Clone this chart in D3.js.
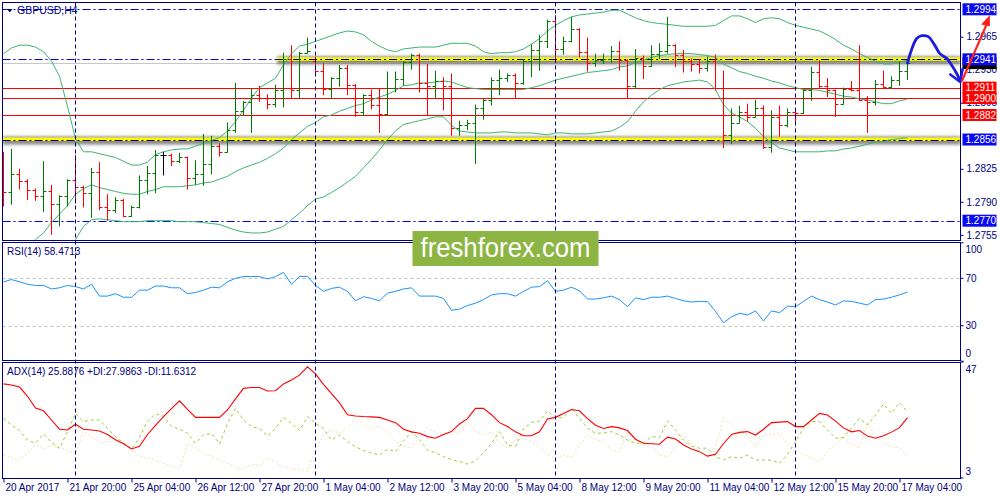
<!DOCTYPE html>
<html><head><meta charset="utf-8">
<script src="https://cdn.jsdelivr.net/npm/d3@7"></script>
<style>body{margin:0;background:#fff}svg{display:block}text{font-family:"Liberation Sans",Arial,sans-serif}</style>
</head><body>
<svg id="c" width="1000" height="500"></svg>
<script>
// ---------------- DATA ----------------
const symbolTitle = "GBPUSD,H4";
const timeLabels = ["20 Apr 2017","21 Apr 20:00","25 Apr 04:00","26 Apr 12:00","27 Apr 20:00","1 May 04:00","2 May 12:00","3 May 20:00","5 May 04:00","8 May 12:00","9 May 20:00","11 May 04:00","12 May 12:00","15 May 20:00","17 May 04:00"];
const labelEvery = 8;
const separatorBars = [9, 39, 69, 99];

const open = [1.2813,1.2800,1.2820,1.2812,1.2802,1.2796,1.2801,1.2788,1.2796,1.2813,
1.2806,1.2799,1.2822,1.2784,1.2781,1.2792,1.2775,1.2784,1.2813,1.2821,
1.2840,1.2840,1.2833,1.2837,1.2815,1.2820,1.2830,1.2849,1.2843,1.2866,
1.2886,1.2896,1.2903,1.2900,1.2894,1.2909,1.2941,1.2909,1.2948,1.2939,
1.2929,1.2910,1.2921,1.2932,1.2914,1.2885,1.2903,1.2893,1.2883,1.2911,
1.2920,1.2938,1.2946,1.2916,1.2913,1.2918,1.2913,1.2868,1.2871,1.2874,
1.2889,1.2898,1.2919,1.2921,1.2924,1.2916,1.2939,1.2951,1.2960,1.2982,
1.2952,1.2960,1.2973,1.2949,1.2937,1.2940,1.2941,1.2950,1.2940,1.2913,
1.2942,1.2934,1.2947,1.2950,1.2956,1.2946,1.2939,1.2936,1.2932,1.2939,
1.2911,1.2861,1.2874,1.2885,1.2880,1.2889,1.2848,1.2880,1.2871,1.2885,
1.2884,1.2908,1.2928,1.2913,1.2908,1.2894,1.2910,1.2909,1.2898,1.2896,
1.2915,1.2912,1.2919,1.2929];
const high = [1.2843,1.2846,1.2825,1.2814,1.2804,1.2833,1.2808,1.2797,1.2814,1.2840,
1.2807,1.2826,1.2832,1.2798,1.2795,1.2793,1.2786,1.2818,1.2828,1.2845,
1.2843,1.2841,1.2842,1.2838,1.2834,1.2862,1.2860,1.2852,1.2874,1.2916,
1.2897,1.2910,1.2913,1.2904,1.2914,1.2948,1.2956,1.2949,1.2964,1.2944,
1.2937,1.2922,1.2935,1.2935,1.2915,1.2904,1.2909,1.2910,1.2928,1.2928,
1.2939,1.2947,1.2947,1.2936,1.2929,1.2922,1.2926,1.2876,1.2877,1.2893,
1.2900,1.2922,1.2930,1.2926,1.2926,1.2941,1.2957,1.2967,1.2983,1.2988,
1.2965,1.2986,1.2974,1.2964,1.2947,1.2947,1.2955,1.2960,1.2941,1.2952,
1.2945,1.2956,1.2958,1.2986,1.2957,1.2951,1.2942,1.2941,1.2944,1.2946,
1.2929,1.2889,1.2892,1.2894,1.2898,1.2892,1.2887,1.2892,1.2889,1.2887,
1.2909,1.2933,1.2940,1.2921,1.2909,1.2911,1.2918,1.2956,1.2902,1.2919,
1.2929,1.2923,1.2939,1.2940];
const low = [1.2785,1.2787,1.2803,1.2792,1.2791,1.2779,1.2755,1.2764,1.2785,1.2788,
1.2784,1.2773,1.2781,1.2770,1.2778,1.2774,1.2774,1.2783,1.2798,1.2799,
1.2818,1.2828,1.2831,1.2803,1.2808,1.2807,1.2819,1.2838,1.2842,1.2863,
1.2881,1.2863,1.2896,1.2888,1.2890,1.2890,1.2900,1.2900,1.2947,1.2923,
1.2903,1.2899,1.2912,1.2903,1.2880,1.2881,1.2888,1.2863,1.2882,1.2906,
1.2913,1.2930,1.2906,1.2882,1.2900,1.2887,1.2860,1.2860,1.2866,1.2830,
1.2877,1.2892,1.2903,1.2917,1.2899,1.2914,1.2922,1.2929,1.2953,1.2937,
1.2946,1.2959,1.2943,1.2928,1.2933,1.2936,1.2937,1.2929,1.2900,1.2910,
1.2920,1.2933,1.2941,1.2947,1.2933,1.2927,1.2928,1.2926,1.2928,1.2908,
1.2847,1.2851,1.2873,1.2875,1.2879,1.2846,1.2842,1.2859,1.2869,1.2873,
1.2883,1.2897,1.2910,1.2901,1.2880,1.2893,1.2907,1.2897,1.2863,1.2892,
1.2911,1.2910,1.2913,1.2919];
const close = [1.2800,1.2820,1.2812,1.2802,1.2796,1.2801,1.2788,1.2796,1.2813,1.2806,
1.2799,1.2822,1.2784,1.2781,1.2792,1.2775,1.2784,1.2813,1.2821,1.2840,
1.2840,1.2833,1.2837,1.2815,1.2820,1.2830,1.2849,1.2843,1.2866,1.2886,
1.2896,1.2903,1.2900,1.2894,1.2909,1.2941,1.2909,1.2948,1.2950,1.2929,
1.2910,1.2921,1.2932,1.2914,1.2885,1.2903,1.2893,1.2883,1.2911,1.2920,
1.2938,1.2946,1.2916,1.2913,1.2918,1.2913,1.2868,1.2871,1.2874,1.2889,
1.2898,1.2919,1.2921,1.2924,1.2916,1.2939,1.2951,1.2960,1.2982,1.2952,
1.2960,1.2973,1.2949,1.2937,1.2940,1.2941,1.2950,1.2940,1.2913,1.2942,
1.2934,1.2947,1.2950,1.2956,1.2946,1.2939,1.2936,1.2932,1.2939,1.2911,
1.2861,1.2874,1.2885,1.2880,1.2889,1.2848,1.2880,1.2871,1.2885,1.2884,
1.2908,1.2928,1.2913,1.2908,1.2894,1.2910,1.2909,1.2898,1.2896,1.2915,
1.2912,1.2919,1.2929,1.2937];

const bbUpper = [1.2947,1.2953,1.2956,1.2956,1.2954,1.2949,1.2939,1.2923,1.2891,1.2857,
1.2843,1.2843,1.2841,1.2839,1.2837,1.2833,1.2829,1.2829,1.2832,1.2840,
1.2843,1.2845,1.2846,1.2846,1.2849,1.2852,1.2855,1.2858,1.2865,1.2875,
1.2887,1.2900,1.2911,1.2916,1.2921,1.2935,1.2947,1.2955,1.2957,1.2960,
1.2963,1.2966,1.2969,1.2971,1.2970,1.2967,1.2960,1.2955,1.2951,1.2949,
1.2952,1.2953,1.2954,1.2954,1.2954,1.2956,1.2958,1.2958,1.2958,1.2955,
1.2949,1.2947,1.2948,1.2948,1.2949,1.2952,1.2957,1.2963,1.2971,1.2977,
1.2982,1.2986,1.2988,1.2989,1.2990,1.2991,1.2993,1.2993,1.2989,1.2985,
1.2982,1.2980,1.2979,1.2978,1.2977,1.2976,1.2976,1.2976,1.2976,1.2977,
1.2982,1.2987,1.2987,1.2984,1.2980,1.2984,1.2985,1.2984,1.2980,1.2977,
1.2975,1.2973,1.2971,1.2967,1.2962,1.2956,1.2952,1.2947,1.2943,1.2939,
1.2936,1.2936,1.2938,1.2940];
const bbMiddle = [1.2714,1.2724,1.2733,1.2742,1.2750,1.2757,1.2768,1.2777,1.2786,1.2798,
1.2804,1.2808,1.2805,1.2803,1.2801,1.2799,1.2798,1.2798,1.2801,1.2803,
1.2806,1.2806,1.2806,1.2807,1.2808,1.2810,1.2811,1.2814,1.2817,1.2822,
1.2826,1.2829,1.2832,1.2836,1.2841,1.2847,1.2856,1.2863,1.2870,1.2874,
1.2880,1.2882,1.2886,1.2889,1.2892,1.2894,1.2898,1.2901,1.2904,1.2908,
1.2913,1.2914,1.2916,1.2916,1.2917,1.2918,1.2917,1.2914,1.2911,1.2910,
1.2909,1.2909,1.2909,1.2909,1.2909,1.2909,1.2911,1.2913,1.2916,1.2919,
1.2921,1.2923,1.2925,1.2927,1.2928,1.2929,1.2930,1.2933,1.2934,1.2938,
1.2940,1.2943,1.2945,1.2946,1.2947,1.2947,1.2947,1.2946,1.2945,1.2943,
1.2936,1.2932,1.2928,1.2926,1.2923,1.2921,1.2918,1.2916,1.2913,1.2911,
1.2909,1.2909,1.2908,1.2906,1.2904,1.2902,1.2901,1.2899,1.2898,1.2896,
1.2894,1.2894,1.2897,1.2899];
const bbLower = [null,null,null,null,null,null,null,null,1.2725,1.2750,
1.2764,1.2771,1.2772,1.2771,1.2770,1.2769,1.2769,1.2769,1.2770,1.2770,
1.2770,1.2770,1.2769,1.2769,1.2769,1.2768,1.2767,1.2766,1.2763,1.2760,
1.2758,1.2757,1.2757,1.2758,1.2761,1.2764,1.2771,1.2778,1.2786,1.2793,
1.2795,1.2800,1.2805,1.2811,1.2817,1.2826,1.2835,1.2845,1.2856,1.2865,
1.2872,1.2874,1.2876,1.2878,1.2880,1.2880,1.2871,1.2865,1.2864,1.2863,
1.2863,1.2863,1.2864,1.2864,1.2863,1.2863,1.2863,1.2862,1.2861,1.2863,
1.2863,1.2862,1.2862,1.2862,1.2863,1.2864,1.2865,1.2869,1.2875,1.2886,
1.2896,1.2903,1.2909,1.2913,1.2915,1.2917,1.2918,1.2919,1.2917,1.2909,
1.2893,1.2884,1.2880,1.2875,1.2868,1.2859,1.2853,1.2847,1.2845,1.2843,
1.2843,1.2843,1.2843,1.2844,1.2844,1.2846,1.2847,1.2849,1.2851,1.2853,
1.2854,1.2856,1.2857,1.2858];

const rsi = [67,69,67,65,64,64,61,62,64,63,
61,65,55,55,57,54,54,60,60,63.5,
63.5,62,62,57,58,60,62.5,62,67,70,
71.5,71.5,71.5,69.5,71.5,75,65,71.5,71.5,64,
59,61.5,62.5,59,51,54.5,53,51,57.5,59,
61,62,55,55,55,53,43,44,47,49,
52,56,57,57,55,59,62.5,63,68,59,
60,62.5,59.5,52.5,52.5,53.5,55,52,46,53.5,
52,54,54,55,53,51,50,50.5,50.5,42,
32.5,37.5,40.5,39,42.5,34,42.5,41,46.5,46,
50.5,55,52,50,47.5,51,50.5,49,47.5,52,
52.5,54,56,58.47];
const adx = [38.7,38.3,37.5,34,29.5,28.5,25,21.5,21.2,23.4,
21.5,21.2,20.8,19.5,17.5,16,14,15,19.5,23,
26.3,29.3,32.3,29,26,26,26,26,28.8,33,
37,37.3,37.3,36,36.1,38.7,40.2,42,45.2,42.5,
38.5,35,31.5,27,26.5,26.3,26.2,26,25,24,
21.5,20.5,20,18.7,18.1,19.5,20.6,23.5,25.5,29.4,
29.4,27,24,22.5,20.5,19,19,20.5,25.4,26,
27.5,29,28.5,25.5,23,21.8,22.5,22,21,17.7,
16.2,16,15.8,18.5,17.8,15.5,14,13,11.3,12,
16,19.5,20.3,20.6,19.3,21.5,24,24.2,24.4,22.5,
22.5,25,27.5,26.9,24.6,22,20.5,21,18.9,18.1,
19,20.4,22.1,25.89];
const plusDI = [25.6,23.1,21,17.4,16.2,19.7,16.5,14.3,20.6,27.5,
24.4,25,25,21.8,18.7,16.2,13.9,18.4,24.4,27.3,
26.5,22.5,21.5,20,16.2,19.3,20,15.9,23.7,29.4,
25,22.5,21.8,18.9,21.8,26,23.7,21,26.3,23.7,
21.8,17.4,19.3,16.8,14.9,13.4,12.5,11.7,13.9,13,
17,20.6,17.5,13.6,12.5,11.1,10,9.2,8.3,9.5,
12.5,16.2,20.6,15.5,14.9,21.8,24.1,24.6,28.5,25.6,
26,29.4,25.6,21.8,20,20,20.6,19.3,17.4,16.2,
16.2,18.7,18.4,24.6,21.2,17.4,15.1,14.3,14.3,11.1,
9.8,11.1,10.5,11.7,9.8,9.8,9.8,8.6,12,16.8,
22,24.4,24.4,21.2,18.1,18.4,22,25.6,23.1,26.9,
31,27.5,31.6,27.99];
const minusDI = [11.7,10.9,9.8,12.5,15.5,14,15.5,14.6,13.4,12.1,
20.6,18.7,16.2,16.8,17,16.5,14,11.1,10.5,9.8,
8.5,7.6,6.7,16.2,14.3,12.5,11.3,9.5,8.6,7,
6.3,8.3,7.6,10.5,9.2,7,6.7,6.3,5.4,13.6,
19.3,21.2,20,21.8,25.6,23.7,21.2,23.1,20.6,16.8,
15,14.3,18.7,21.8,20.5,19.3,21.8,20,24.4,20.6,
19.3,20.6,16.2,14.3,17.4,18,16.8,14.3,11.7,10.5,
11.7,11,15.5,19.3,17.5,16.8,13.6,13,20.6,17.4,
15.5,14.9,11.7,11.1,14.3,20,15.5,13,11.1,14.6,
25.6,23.1,20.6,19.3,14.9,19.3,19.5,20,16.2,13.6,
11.7,10.5,9.2,13,16,18.7,15.9,14.3,24.4,18.7,
16.2,15,14.3,11.63];

const priceTicks = [1.2755,1.2790,1.2825,1.2895,1.2930,1.2965];
const rsiTicks = [0,30,70,100];
const rsiLevels = [30,70];
const adxTicks = [3,47];
const blueLevels = [1.2994,1.2941,1.2856,1.2770];
const redLevels = [1.2911,1.2900,1.2882];
const yellowZones = [{price:1.2941, fromBar:34.2},{price:1.2856, fromBar:-1}];
const rsiTitle = "RSI(14) 58.4713";
const adxTitle = "ADX(14) 25.8876 +DI:27.9863 -DI:11.6312";
const watermark = "freshforex.com";
// hand-drawn annotations (bar index, price)
const blueCurve = [[113.0,1.2937],[113.5,1.2951],[114.15,1.2963],[114.8,1.2966],[115.6,1.2965],[116.4,1.2956],[117.05,1.2947],[117.9,1.2942],[118.5,1.2935],[119.15,1.2926],[119.6,1.2918]];
const blueHead = [[118.35,1.2925],[119.6,1.2917],[119.9,1.2931]];
const redArrow = [[119.8,1.2918],[123.1,1.2982]];
const redHead = [[123.3,1.2988],[122.2,1.2978],[123.3,1.2976]];

// ---------------- LAYOUT ----------------
const NAVY = "#000080";
const L = 2.5, R = 960.5;
const P = {price:[2.5,240.5], rsi:[242.5,360.5], adx:[362.5,478.5]};
const FS = 9.5;

const svg = d3.select("#c");
const n = close.length;
const x = d3.scaleLinear().domain([0, n-1]).range([3.5, 3.5 + 8*(n-1)]);
const yP = d3.scaleLinear().domain([1.2770, 1.2994]).range([220.7, 9.3]);
const yR = d3.scaleLinear().domain([0, 100]).range([361.2, 242.8]);
const yA = d3.scaleLinear().domain([3, 47]).range([478, 362]);

const defs = svg.append("defs");
defs.append("filter").attr("id","blur").attr("x","-5%").attr("y","-300%").attr("width","110%").attr("height","700%")
  .append("feGaussianBlur").attr("stdDeviation", 1.8);
Object.entries(P).forEach(([k,[t,b]]) => {
  defs.append("clipPath").attr("id","clip-"+k).append("rect")
    .attr("x", L).attr("y", t).attr("width", R-L).attr("height", b-t);
});

// ---------- PRICE PANEL ----------
const gp = svg.append("g").attr("clip-path","url(#clip-price)");

// bid line
const lastClose = close[n-1];
gp.append("line").attr("x1",L).attr("x2",R).attr("y1",Math.round(yP(lastClose))+0.5).attr("y2",Math.round(yP(lastClose))+0.5)
  .attr("stroke","#c8c8c8").attr("stroke-width",1);

// blue dash-dot levels
blueLevels.forEach(v => {
  const yy = Math.round(yP(v))+0.5;
  gp.append("line").attr("x1",L).attr("x2",R).attr("y1",yy).attr("y2",yy)
    .attr("stroke","#0000e6").attr("stroke-width",1).attr("stroke-dasharray","8,3,2,3");
});
// yellow zones with shadow
yellowZones.forEach(z => {
  const yy = yP(z.price);
  const x0 = Math.max(L, x(z.fromBar));
  gp.append("rect").attr("x",x0).attr("y",yy-3).attr("width",R-x0).attr("height",8)
    .attr("fill","#6a6a6a").attr("opacity",0.8).attr("filter","url(#blur)");
  gp.append("rect").attr("x",x0).attr("y",yy-2).attr("width",R-x0).attr("height",3.5).attr("fill","#ffff00");
  gp.append("line").attr("x1",x0).attr("x2",R).attr("y1",Math.round(yy)+0.5).attr("y2",Math.round(yy)+0.5)
    .attr("stroke","#000040").attr("stroke-width",1).attr("stroke-dasharray","8,3,2,3");
});
// red levels
redLevels.forEach(v => {
  const yy = Math.round(yP(v))+0.5;
  gp.append("line").attr("x1",L).attr("x2",R).attr("y1",yy).attr("y2",yy)
    .attr("stroke","#ff0000").attr("stroke-width",1.2);
});

// Bollinger bands
const bbLine = d3.line().defined(d => d[1] != null).x(d => x(d[0])).y(d => yP(d[1]));
[bbUpper, bbMiddle, bbLower].forEach(arr => {
  gp.append("path").attr("d", bbLine(arr.map((v,i)=>[i,v])))
    .attr("fill","none").attr("stroke","#3cb371").attr("stroke-width",1);
});

// OHLC bars
const bars = gp.append("g").selectAll("g").data(d3.range(n)).join("g")
  .attr("stroke", i => close[i] > open[i] ? "#007a00" : (close[i] < open[i] ? "#ff0000" : "#000000"))
  .attr("stroke-width", 1);
bars.append("line").attr("x1", i=>x(i)).attr("x2", i=>x(i)).attr("y1", i=>yP(high[i])).attr("y2", i=>yP(low[i]));
bars.append("line").attr("x1", i=>x(i)-3).attr("x2", i=>x(i)).attr("y1", i=>Math.round(yP(open[i]))+0.5).attr("y2", i=>Math.round(yP(open[i]))+0.5);
bars.append("line").attr("x1", i=>x(i)).attr("x2", i=>x(i)+3).attr("y1", i=>Math.round(yP(close[i]))+0.5).attr("y2", i=>Math.round(yP(close[i]))+0.5);

// ---------- RSI PANEL ----------
const gr = svg.append("g").attr("clip-path","url(#clip-rsi)");
rsiLevels.forEach(v => {
  const yy = Math.round(yR(v))+0.5;
  gr.append("line").attr("x1",L).attr("x2",R).attr("y1",yy).attr("y2",yy)
    .attr("stroke","#c0c0c0").attr("stroke-dasharray","3,3");
});
gr.append("path").attr("d", d3.line().x((d,i)=>x(i)).y(d=>yR(d))(rsi))
  .attr("fill","none").attr("stroke","#1e90ff").attr("stroke-width",1);

// ---------- ADX PANEL ----------
const ga = svg.append("g").attr("clip-path","url(#clip-adx)");
const aLine = d3.line().x((d,i)=>x(i)).y(d=>yA(d));
ga.append("path").attr("d", aLine(minusDI)).attr("fill","none").attr("stroke","#f5deb3").attr("stroke-width",1).attr("stroke-dasharray","2,2");
ga.append("path").attr("d", aLine(plusDI)).attr("fill","none").attr("stroke","#9acd32").attr("stroke-width",1).attr("stroke-dasharray","3,3");
ga.append("path").attr("d", aLine(adx)).attr("fill","none").attr("stroke","#ff0000").attr("stroke-width",1.1);

// ---------- vertical separators ----------
separatorBars.forEach(b => {
  svg.append("line").attr("x1",x(b)).attr("x2",x(b)).attr("y1",P.price[0]).attr("y2",P.adx[1])
    .attr("stroke",NAVY).attr("stroke-width",1).attr("stroke-dasharray","4,3");
});

// ---------- frames ----------
Object.values(P).forEach(([t,b]) => {
  svg.append("rect").attr("x",L).attr("y",t).attr("width",R-L).attr("height",b-t)
    .attr("fill","none").attr("stroke",NAVY).attr("stroke-width",1);
});

// ---------- titles ----------
svg.append("path").attr("d", d3.line()([[7,9],[12.5,9],[9.75,12.5]])+"Z").attr("fill",NAVY);
svg.append("text").attr("x",17).attr("y",14).attr("font-size",FS+1).attr("fill",NAVY).text(symbolTitle);
svg.append("text").attr("x",7).attr("y",255).attr("font-size",FS+0.5).attr("fill",NAVY).text(rsiTitle);
svg.append("text").attr("x",7).attr("y",375).attr("font-size",FS+0.5).attr("fill",NAVY).text(adxTitle);

// ---------- price axis ----------
const axP = svg.append("g").attr("transform",`translate(${R},0)`)
  .call(d3.axisRight(yP).tickValues(priceTicks).tickSize(3).tickPadding(3).tickFormat(d3.format(".4f")));
axP.select(".domain").remove();
axP.selectAll("line").attr("stroke",NAVY);
axP.selectAll("text").attr("fill",NAVY).attr("font-size",FS+0.5).attr("font-family","Liberation Sans, Arial");

// bid marker (black, mostly hidden) then level labels
function boxLabel(v, fill, withText) {
  const yy = yP(v);
  svg.append("rect").attr("x",R+2).attr("y",yy-6).attr("width",34).attr("height",12).attr("fill",fill);
  if (withText) svg.append("text").attr("x",R+5).attr("y",yy+3.6).attr("font-size",FS+0.5).attr("fill","#fff").text(d3.format(".4f")(v));
}
boxLabel(lastClose, "#000000", false);
blueLevels.forEach(v => boxLabel(v, "#0a0af0", true));
redLevels.forEach(v => boxLabel(v, "#ff0000", true));

// ---------- RSI / ADX axes ----------
function sideAxis(scale, ticks, top, bottom) {
  const g = svg.append("g").attr("transform",`translate(${R},0)`);
  ticks.forEach(t => {
    const yy = scale(t);
    g.append("line").attr("x1",0).attr("x2",3).attr("y1",yy).attr("y2",yy).attr("stroke",NAVY);
    const ly = Math.min(Math.max(yy, top+7), bottom-7);
    g.append("text").attr("x",5).attr("y",ly+3.5).attr("font-size",FS+0.5).attr("fill",NAVY).text(t);
  });
}
sideAxis(yR, rsiTicks, P.rsi[0], P.rsi[1]);
sideAxis(yA, adxTicks, P.adx[0], P.adx[1]);

// ---------- time axis ----------
const tickIdx = timeLabels.map((_,k) => k*labelEvery);
const axT = svg.append("g").attr("transform",`translate(0,${P.adx[1]})`)
  .call(d3.axisBottom(x).tickValues(tickIdx).tickSize(4).tickFormat((d,k)=>timeLabels[k]));
axT.select(".domain").remove();
axT.selectAll("line").attr("stroke",NAVY);
axT.selectAll("text").attr("fill",NAVY).attr("font-size",FS+0.5).attr("font-family","Liberation Sans, Arial")
  .attr("text-anchor","start").attr("dx","0.15em").attr("dy","0.55em");

// ---------- annotations ----------
const aL = d3.line().x(d=>x(d[0])).y(d=>yP(d[1])).curve(d3.curveCatmullRom);
svg.append("path").attr("d", aL(blueCurve)).attr("fill","none").attr("stroke","#1c1ce0").attr("stroke-width",2.8).attr("stroke-linecap","round");
svg.append("path").attr("d", d3.line().x(d=>x(d[0])).y(d=>yP(d[1]))(blueHead)).attr("fill","none").attr("stroke","#1c1ce0").attr("stroke-width",2.5).attr("stroke-linecap","round").attr("stroke-linejoin","round");
svg.append("path").attr("d", d3.line().x(d=>x(d[0])).y(d=>yP(d[1]))(redArrow)).attr("fill","none").attr("stroke","#ff2020").attr("stroke-width",2.2);
svg.append("path").attr("d", d3.line().x(d=>x(d[0])).y(d=>yP(d[1]))(redHead)+"Z").attr("fill","#ff2020");

// ---------- watermark ----------
const wmx = 505.5;
const wm = svg.append("g");
wm.append("rect").attr("x", wmx-93).attr("y", 231).attr("width", 186).attr("height", 35).attr("fill","#8db543");
wm.append("text").attr("x", wmx).attr("y", 257).attr("text-anchor","middle")
  .attr("font-family","'Open Sans', 'Noto Sans', sans-serif").attr("font-size",27).attr("fill","#fff")
  .attr("textLength",170).attr("lengthAdjust","spacingAndGlyphs").text(watermark);
</script>
</body></html>
